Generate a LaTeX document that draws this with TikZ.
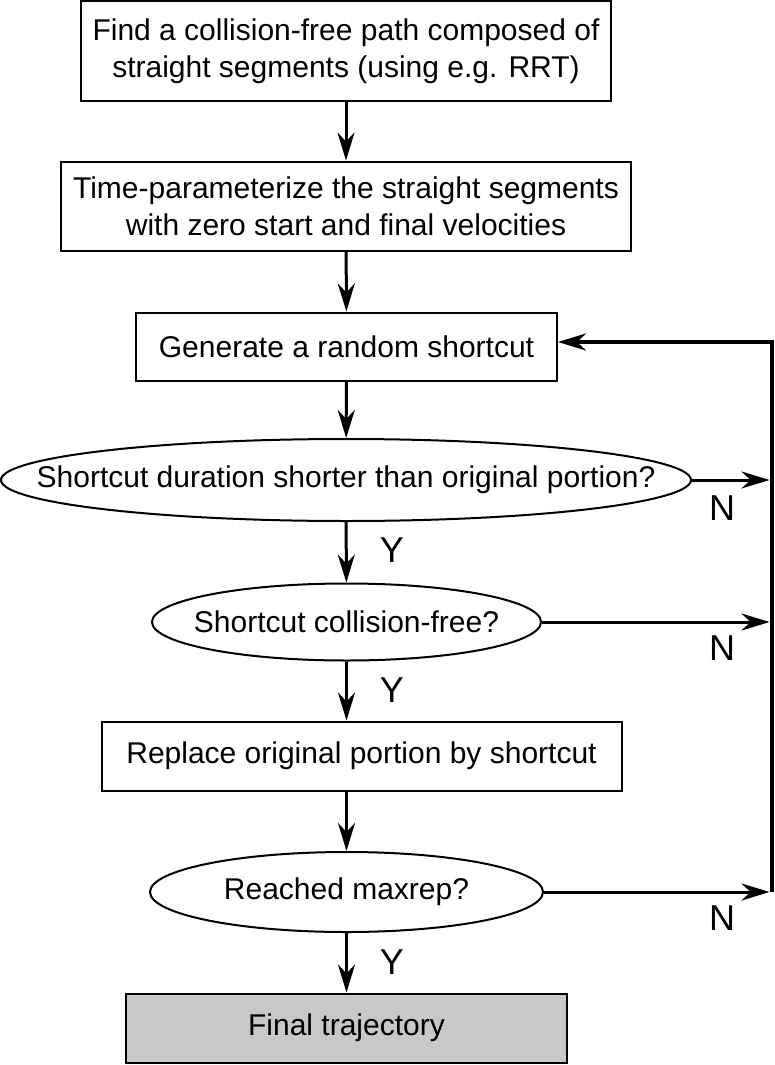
\documentclass[tikz,border=0pt]{standalone}
\usepackage{fontspec}
\setmainfont{Liberation Sans}
\usetikzlibrary{shapes.geometric,arrows.meta}
\definecolor{endgray}{RGB}{200,200,200}

\begin{document}
\begin{tikzpicture}[x=1pt, y=-1pt, font=\fontsize{30}{37}\selectfont,
                    block/.style = {draw, line width=2pt, rectangle, align=center, inner sep=0pt},
                    test/.style = {draw, line width=2pt, ellipse, inner sep=0pt},
                    go/.style = {-{Stealth[length=28pt, width=17pt, inset=9pt]}, line width=3pt},
                    yn/.style = {font=\fontsize{36}{36}\selectfont}]
                    \useasboundingbox (0,0) rectangle (774,1065);

                    \node[block, minimum width=530pt, minimum height=99pt] (find) at (346,51) {Find a collision-free path composed of\\straight segments (using e.g. RRT)};
                    \node[block, minimum width=570pt, minimum height=89pt] (param) at (346,206) {Time-parameterize the straight segments\\with zero start and final velocities};
                    \node[block, minimum width=421pt, minimum height=68pt] (gen) at (346.5,346.5) {Generate a random shortcut};
                    \node[test, minimum width=690pt, minimum height=82pt] (shorter) at (346,480) {\makebox[0pt]{Shortcut duration shorter than original portion?}};
                    \node[test, minimum width=389pt, minimum height=77pt] (free) at (346.5,622) {\makebox[0pt]{Shortcut collision-free?}};
                    \node[block, minimum width=520pt, minimum height=69pt] (replace) at (361.5,756) {Replace original portion by shortcut};
                    \node[test, minimum width=393pt, minimum height=80pt] (maxrep) at (346.5,892) {\makebox[0pt]{Reached maxrep?}};
                    \node[block, fill=endgray, minimum width=441pt, minimum height=69pt] (final) at (346.5,1028) {Final trajectory};

                    \coordinate (top) at (771.5,342);
                    \coordinate (bot) at (771.5,892);

                    \draw[go] (find) -- (param);
                    \draw[go] (param) -- (gen);
                    \draw[go] (gen) -- (shorter);
                    \draw[go] (shorter) -- (free);
                    \draw[go] (free) -- (free |- replace.north);
                    \draw[go] (replace.south -| maxrep) -- (maxrep);
                    \draw[go] (maxrep) -- (final);

                    \draw[go, line width=4pt] (bot) -- (top) -- (top -| gen.east);
                    \draw[go, shorten >=2pt] (shorter.east) -- (shorter.east -| top);
                    \draw[go, shorten >=2pt] (free.east) -- (free.east -| top);
                    \draw[go, shorten >=2pt] (maxrep.east) -- (maxrep.east -| top);

                    \node[yn] (y1) at (392,550) {Y};
                    \node[yn] (y2) at (392,690) {Y};
                    \node[yn] (y3) at (392,962) {Y};
                    \node[yn] (n1) at (722,508) {N};
                    \node[yn] (n2) at (722,648) {N};
                    \node[yn] (n3) at (722,918) {N};
                \end{tikzpicture}
\end{document}
